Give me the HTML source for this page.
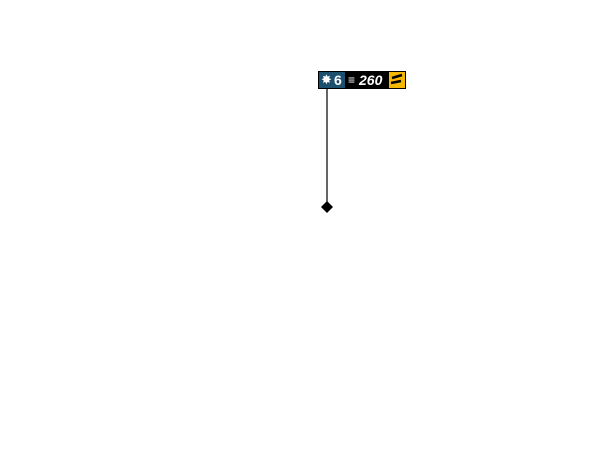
<!DOCTYPE html>
<html><head><style>
body{margin:0;width:600px;height:468px;background:#fff;position:relative;font-family:"Liberation Sans",sans-serif;overflow:hidden}
.d{position:absolute}
</style></head><body>
<div class="d" style="left:318px;top:71px;width:88px;height:18px;background:#000"></div>
<div class="d" style="left:319px;top:72px;width:26px;height:16px;background:#1d4f6e"></div>
<div class="d" style="left:321px;top:71px;color:#fff;font-size:13px;line-height:18px">✸</div>
<div class="d" style="left:334px;top:71px;color:#fff;font-weight:bold;font-size:14px;line-height:18px">6</div>
<div class="d" style="left:348px;top:71px;color:#fff;font-size:12px;line-height:18px;font-style:italic">≡</div>
<div class="d" style="left:359px;top:71px;color:#fff;font-weight:bold;font-style:italic;font-size:14px;line-height:18px">260</div>
<div class="d" style="left:389px;top:72px;width:16px;height:16px;background:#f5b800"></div>
<svg class="d" style="left:0;top:0" width="600" height="468">
<path d="M392 78 L402 75 M391 83 L401 81" stroke="#000" stroke-width="2.5"/>
<line x1="327" y1="89" x2="327" y2="207" stroke="#000" stroke-width="1.2"/>
<polygon points="327,201 333,207 327,213 321,207" fill="#000"/>
</svg>
</body></html>
